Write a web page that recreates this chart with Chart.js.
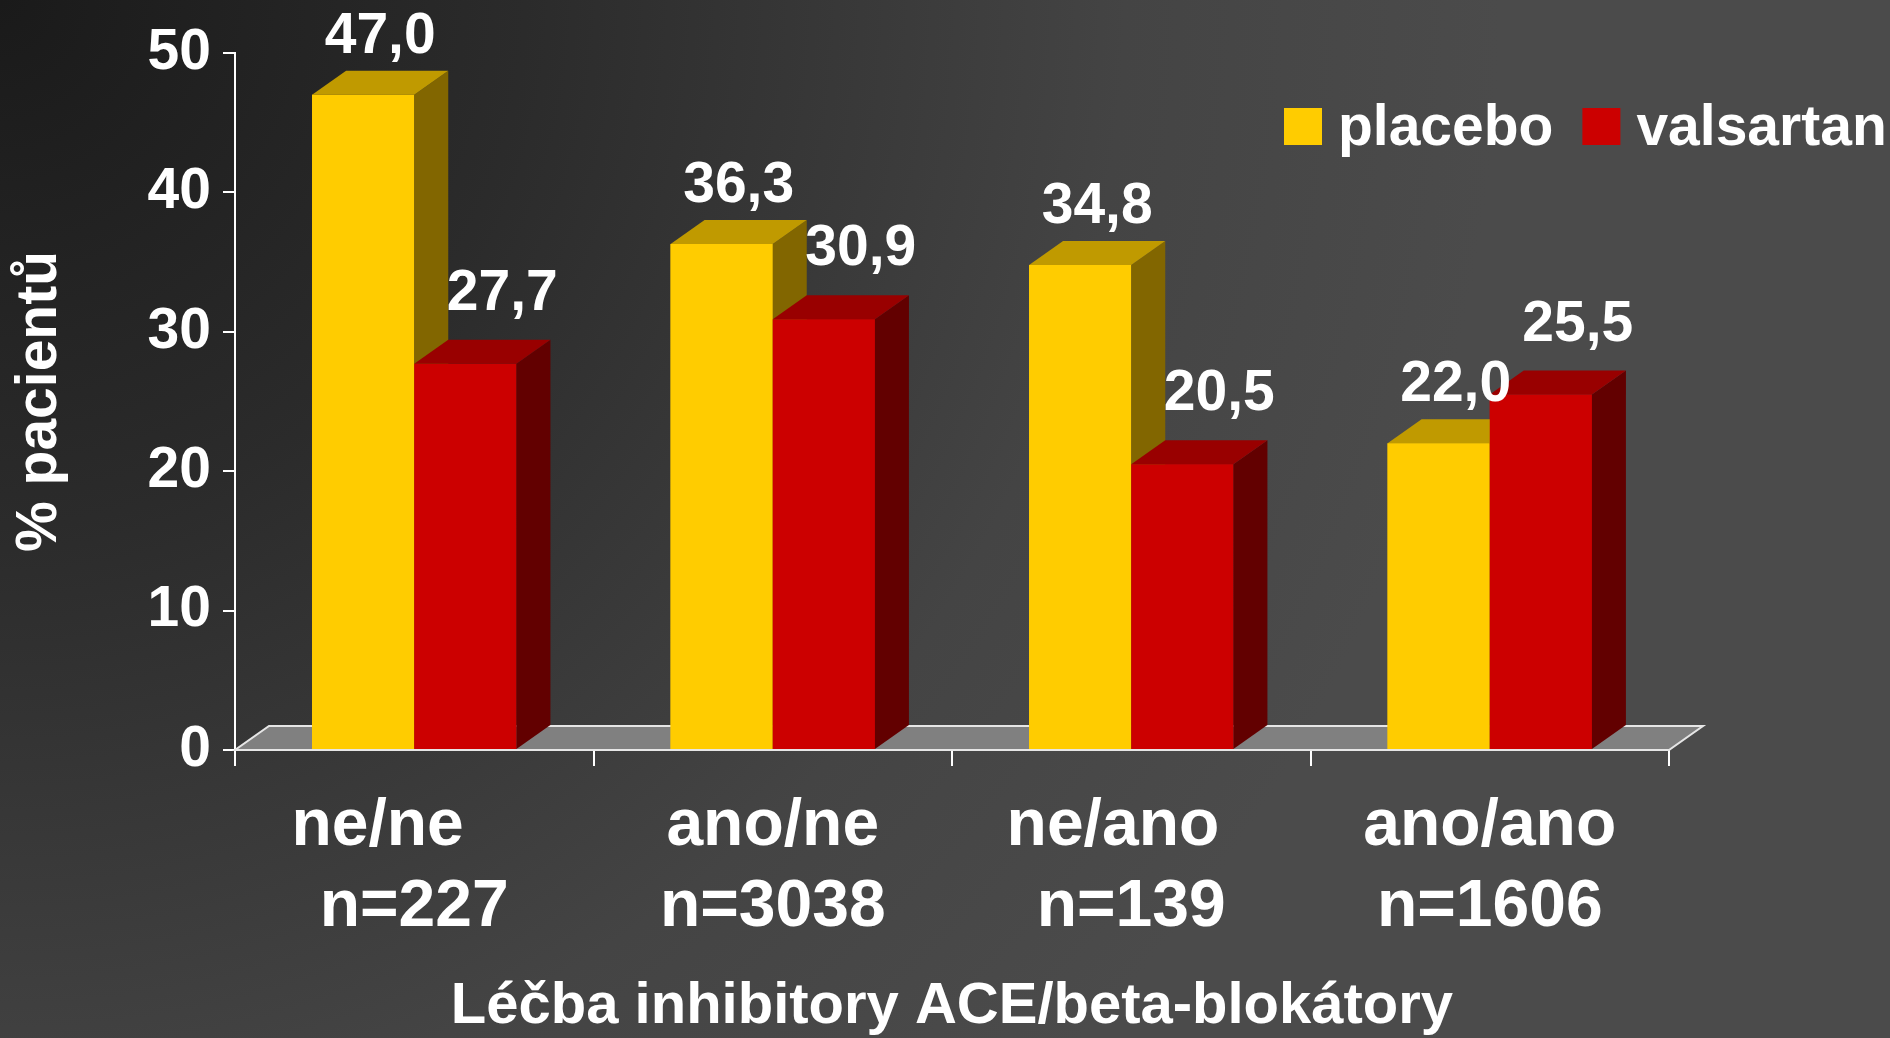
<!DOCTYPE html>
<html>
<head>
<meta charset="utf-8">
<script src="https://cdn.jsdelivr.net/npm/chart.js@4.4.0/dist/chart.umd.min.js"></script>
<style>
  html, body { margin: 0; padding: 0; background: #4b4b4b; overflow: hidden; }
  canvas { display: block; }
</style>
</head>
<body>
<canvas id="chart" width="1890" height="1038"></canvas>
<script>
const categories = [
  ["ne/ne    ", "n=227"],
  ["ano/ne", "n=3038"],
  ["ne/ano  ", "n=139"],
  ["ano/ano", "n=1606"],
];
const placebo = [47.0, 36.3, 34.8, 22.0];
const valsartan = [27.7, 30.9, 20.5, 25.5];
const yTicks = [0, 10, 20, 30, 40, 50];

const FONT = "'Liberation Sans', Arial, sans-serif";
const DX = 34, DY = -24;

const faces = [
  { front: "#ffcc00", top: "#c09a00", side: "#826600", labelDx: 0, labelGap: 18 },
  { front: "#cc0000", top: "#990000", side: "#620000", labelDx: 20, labelGap: 30 },
];

const fmt = (v) => v.toFixed(1).replace(".", ",");

const background = {
  id: "background",
  beforeDraw(chart) {
    const { ctx, width, height } = chart;
    const g = ctx.createRadialGradient(0, 0, 0, 0, 0, 1500);
    g.addColorStop(0, "#1a1a1a");
    g.addColorStop(0.35, "#2b2b2b");
    g.addColorStop(0.75, "#444444");
    g.addColorStop(1, "#4b4b4b");
    ctx.save();
    ctx.fillStyle = g;
    ctx.fillRect(0, 0, width, height);
    ctx.restore();
  },
};

// grey floor under the bars
const floor = {
  id: "floor",
  beforeDatasetsDraw(chart) {
    const { ctx, chartArea: a } = chart;
    ctx.save();
    ctx.beginPath();
    ctx.moveTo(a.left, a.bottom);
    ctx.lineTo(a.right, a.bottom);
    ctx.lineTo(a.right + DX, a.bottom + DY);
    ctx.lineTo(a.left + DX, a.bottom + DY);
    ctx.closePath();
    ctx.fillStyle = "#808080";
    ctx.fill();
    ctx.strokeStyle = "#e6e6e6";
    ctx.lineWidth = 2;
    ctx.stroke();
    ctx.restore();
  },
};

// redraw bars left to right with their top and side faces, then the value labels
const bars3d = {
  id: "bars3d",
  afterDatasetsDraw(chart) {
    const { ctx } = chart;
    ctx.save();
    chart.data.datasets.forEach((ds, i) => {
      const f = faces[i];
      chart.getDatasetMeta(i).data.forEach((bar) => {
        const { x, y, base, width } = bar.getProps(["x", "y", "base", "width"], true);
        const l = x - width / 2, r = x + width / 2;
        bar.draw(ctx);
        ctx.fillStyle = f.side;
        ctx.beginPath();
        ctx.moveTo(r, y);
        ctx.lineTo(r + DX, y + DY);
        ctx.lineTo(r + DX, base + DY);
        ctx.lineTo(r, base);
        ctx.closePath();
        ctx.fill();
        ctx.fillStyle = f.top;
        ctx.beginPath();
        ctx.moveTo(l, y);
        ctx.lineTo(r, y);
        ctx.lineTo(r + DX, y + DY);
        ctx.lineTo(l + DX, y + DY);
        ctx.closePath();
        ctx.fill();
      });
    });

    ctx.fillStyle = "#ffffff";
    ctx.font = "bold 57px " + FONT;
    ctx.textAlign = "center";
    ctx.textBaseline = "alphabetic";
    chart.data.datasets.forEach((ds, i) => {
      const f = faces[i];
      chart.getDatasetMeta(i).data.forEach((bar, j) => {
        const { x, y } = bar.getProps(["x", "y"], true);
        ctx.fillText(fmt(ds.data[j]), x + DX / 2 + f.labelDx, y + DY - f.labelGap);
      });
    });
    ctx.restore();
  },
};

const legend = {
  id: "boxLegend",
  afterDraw(chart) {
    const { ctx } = chart;
    ctx.save();
    ctx.font = "bold 57px " + FONT;
    ctx.textBaseline = "alphabetic";
    ctx.textAlign = "left";
    let x = 1284;
    const baseline = 145, box = 37;
    chart.data.datasets.forEach((ds) => {
      ctx.fillStyle = ds.backgroundColor;
      ctx.fillRect(x, baseline - box, box + 1, box);
      x += box + 17;
      ctx.fillStyle = "#ffffff";
      ctx.fillText(ds.label, x, baseline);
      x += ctx.measureText(ds.label).width + 29;
    });
    ctx.restore();
  },
};

new Chart(document.getElementById("chart"), {
  type: "bar",
  data: {
    labels: categories,
    datasets: [
      { label: "placebo", data: placebo, backgroundColor: faces[0].front },
      { label: "valsartan", data: valsartan, backgroundColor: faces[1].front },
    ],
  },
  options: {
    responsive: false,
    animation: false,
    devicePixelRatio: 1,
    categoryPercentage: 0.57,
    barPercentage: 1.0,
    layout: { padding: { left: 0, right: 221, top: 53, bottom: 0 } },
    plugins: {
      legend: { display: false },
      tooltip: { enabled: false },
    },
    scales: {
      x: {
        grid: { offset: true, drawOnChartArea: false, tickLength: 16, color: "#ffffff", lineWidth: 2 },
        border: { color: "#ffffff", width: 2 },
        ticks: {
          color: "#ffffff",
          font: { family: FONT, size: 66, weight: "bold", lineHeight: 1.227 },
          padding: 20,
          maxRotation: 0,
          autoSkip: false,
        },
        title: {
          display: true,
          text: "Léčba inhibitory ACE/beta-blokátory",
          color: "#ffffff",
          font: { family: FONT, size: 58, weight: "bold" },
          padding: { top: 0, bottom: -4 },
        },
        afterFit(scale) { scale.height = 288; },
      },
      y: {
        min: yTicks[0],
        max: yTicks[yTicks.length - 1],
        afterBuildTicks(scale) { scale.ticks = yTicks.map((v) => ({ value: v })); },
        grid: { drawOnChartArea: false, tickLength: 12, color: "#ffffff", lineWidth: 2 },
        border: { color: "#ffffff", width: 2 },
        ticks: {
          color: "#ffffff",
          font: { family: FONT, size: 57, weight: "bold" },
          padding: 12,
        },
        title: {
          display: true,
          text: "% pacientů",
          color: "#ffffff",
          font: { family: FONT, size: 57, weight: "bold" },
          padding: { top: 6, bottom: 0 },
        },
        afterFit(scale) { scale.width = 235; },
      },
    },
  },
  plugins: [background, floor, bars3d, legend],
});
</script>
</body>
</html>
